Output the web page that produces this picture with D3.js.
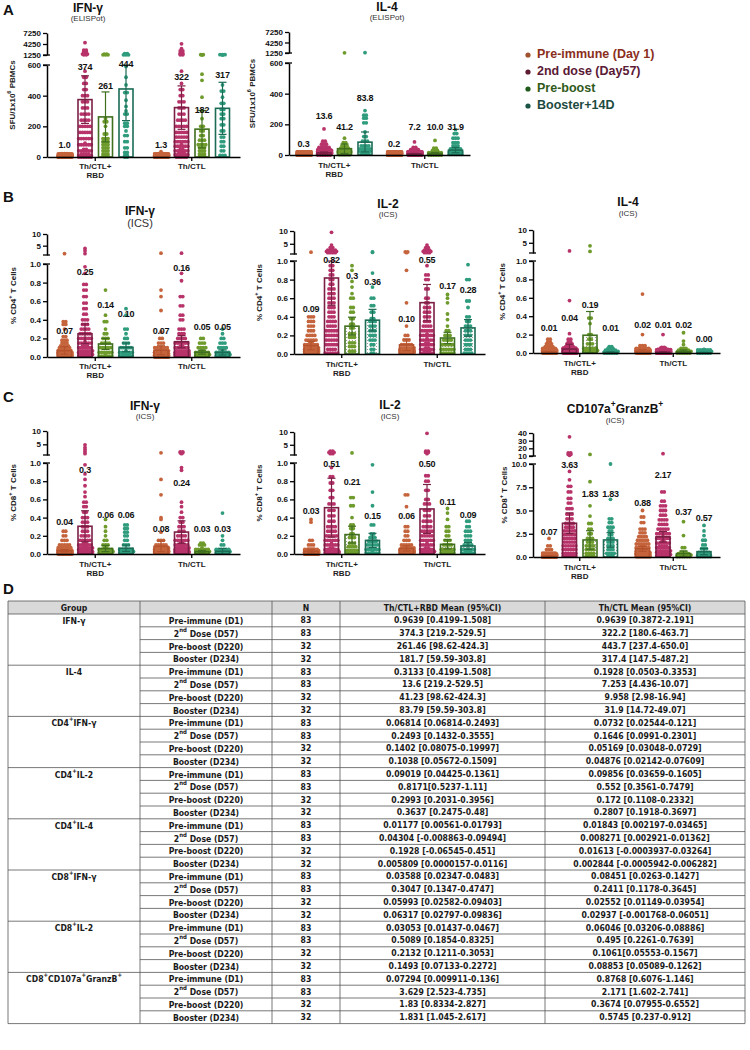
<!DOCTYPE html>
<html><head><meta charset="utf-8">
<script src="https://cdn.jsdelivr.net/npm/d3@7"></script>
<style>
body{margin:0;background:#fff}
svg{display:block;font-family:"Liberation Sans",Arial,sans-serif}
</style></head><body>
<svg id="fig" width="750" height="1050"></svg>
<script>
// ---------------- DATA ----------------
const seriesNames = ["Pre-immune (Day 1)","2nd dose (Day57)","Pre-boost","Booster+14D"];
const groupNames = [["Th/CTL+","RBD"],["Th/CTL"]];

const elispotLowerTicks = [0,200,400,600];
const elispotUpperTicks = [1250,4250,7250];
const icsLowerTicks = [0,0.2,0.4,0.6,0.8,1.0];
const icsUpperTicks = [5,10];
const granzLowerTicks = [0,2.5,5,7.5,10];
const granzUpperTicks = [10,20,30,40];

// A1: IFN-γ ELISpot
const ifnSpotMean = [[0.96,374.3,261.5,443.7],[1.3,322.2,181.7,317.4]];
const ifnSpotLabel = [["1.0","374","261","444"],["1.3","322","182","317"]];
const ifnSpotLo = [[0.42,219.2,98.6,237.4],[0.39,180.6,59.6,147.5]];
const ifnSpotHi = [[1.51,529.5,424.3,650.0],[2.19,463.7,303.8,487.2]];
const ifnSpotLabelAt = [[72,580,457,600],[72,515,300,528]];
const ifnSpotPoints = [
 [
  [[0,50],[2,15],[5,10],[10,5],[20,3]],
  [[4600,1],[2600,2],[2200,2],[1800,2],[1500,3],[1300,2],[560,1],[520,2],[480,2],[440,2],[400,3],[360,3],[320,3],[280,4],[240,4],[200,5],[160,5],[120,6],[80,7],[40,8],[10,10],[0,6]],
  [[1500,2],[1300,3],[250,1],[230,2],[200,1],[150,2],[120,3],[100,3],[80,3],[60,3],[40,3],[20,3],[5,3]],
  [[1600,2],[1450,2],[1300,3],[590,1],[520,1],[470,1],[420,2],[370,1],[330,1],[300,1],[280,2],[220,2],[200,2],[170,1],[140,2],[100,2],[60,2],[30,2],[10,2],[0,2]]
 ],
 [
  [[0,55],[3,15],[8,8],[15,3],[35,1]],
  [[4300,1],[3000,1],[2400,2],[1800,2],[1500,2],[1300,2],[560,1],[480,1],[440,2],[400,2],[360,3],[320,3],[280,3],[240,4],[200,5],[160,5],[130,5],[100,6],[70,7],[40,8],[15,9],[0,5]],
  [[1350,2],[1250,1],[540,1],[500,1],[390,1],[300,1],[250,1],[200,2],[170,2],[140,2],[110,3],[80,4],[60,3],[40,3],[20,3],[5,3]],
  [[1350,3],[1250,1],[470,1],[430,2],[390,1],[350,2],[310,2],[280,2],[250,2],[210,2],[170,2],[130,2],[100,2],[70,2],[40,2],[10,3]]
 ]
];

// A2: IL-4 ELISpot
const il4SpotMean = [[0.31,13.6,41.2,83.8],[0.19,7.25,9.96,31.9]];
const il4SpotLabel = [["0.3","13.6","41.2","83.8"],["0.2","7.2","10.0","31.9"]];
const il4SpotLo = [[0.1,7.6,10,20],[0.05,4.44,2.98,14.72]];
const il4SpotHi = [[0.52,19.6,72,150],[0.34,10.07,16.94,49.07]];
const il4SpotLabelAt = [[65,248,176,366],[65,176,176,176]];
const il4SpotPoints = [
 [
  [[0,75],[2,8]],
  [[170,1],[90,2],[70,3],[50,5],[35,7],[20,12],[10,15],[3,20],[0,18]],
  [[1300,1],[110,1],[80,2],[60,3],[45,4],[30,5],[20,6],[10,5],[2,5]],
  [[1350,1],[290,1],[260,2],[240,2],[210,2],[150,1],[120,2],[90,3],[60,4],[40,5],[25,5],[10,4]]
 ],
 [
  [[0,78],[2,5]],
  [[85,1],[50,2],[35,4],[20,10],[10,16],[3,25],[0,25]],
  [[95,1],[45,2],[30,3],[15,8],[5,10],[0,8]],
  [[165,1],[140,2],[110,3],[80,3],[60,3],[40,5],[20,6],[5,9]]
 ]
];

// B1: CD4 IFN-γ ICS
const cd4IfnMean = [[0.0681,0.2493,0.1402,0.1038],[0.0732,0.1646,0.0517,0.0488]];
const cd4IfnLabel = [["0.07","0.25","0.14","0.10"],["0.07","0.16","0.05","0.05"]];
const cd4IfnLo = [[0.03,0.1432,0.0808,0.0567],[0.0254,0.0991,0.0305,0.0214]];
const cd4IfnHi = [[0.11,0.3555,0.2000,0.1509],[0.121,0.2301,0.0729,0.0761]];
const cd4IfnLabelAt = [[0.27,0.91,0.55,0.46],[0.27,0.95,0.32,0.32]];
const cd4IfnPoints = [
 [
  [[1.6,1],[0.38,2],[0.35,2],[0.3,1],[0.22,2],[0.18,3],[0.15,3],[0.12,4],[0.1,5],[0.07,8],[0.05,10],[0.03,14],[0.01,28]],
  [[3.8,1],[2.8,1],[1.6,1],[0.97,1],[0.9,1],[0.78,2],[0.72,2],[0.65,2],[0.58,2],[0.52,2],[0.46,2],[0.4,3],[0.35,3],[0.3,4],[0.25,5],[0.2,6],[0.15,7],[0.1,9],[0.05,12],[0.01,20]],
  [[0.72,1],[0.45,1],[0.38,2],[0.3,1],[0.25,2],[0.2,3],[0.15,4],[0.1,5],[0.05,6],[0.01,7]],
  [[0.52,1],[0.45,1],[0.3,2],[0.25,1],[0.2,2],[0.15,3],[0.1,5],[0.05,7],[0.01,10]]
 ],
 [
  [[1.8,1],[0.72,1],[0.65,1],[0.5,1],[0.27,1],[0.2,2],[0.15,3],[0.1,6],[0.05,12],[0.02,20],[0,35]],
  [[1.8,1],[0.9,1],[0.82,1],[0.65,2],[0.55,2],[0.45,2],[0.4,2],[0.3,3],[0.25,3],[0.2,4],[0.15,6],[0.1,8],[0.05,12],[0.01,36]],
  [[0.2,2],[0.15,3],[0.1,4],[0.05,8],[0.01,15]],
  [[0.3,1],[0.25,1],[0.2,2],[0.15,3],[0.1,4],[0.05,7],[0.01,14]]
 ]
];

// B2: CD4 IL-2 ICS
const cd4Il2Mean = [[0.0902,0.8171,0.2993,0.3637],[0.0986,0.552,0.172,0.2807]];
const cd4Il2Label = [["0.09","0.82","0.3","0.36"],["0.10","0.55","0.17","0.28"]];
const cd4Il2Lo = [[0.0443,0.5237,0.2031,0.2475],[0.0366,0.3561,0.1108,0.1918]];
const cd4Il2Hi = [[0.1361,1.11,0.3956,0.48],[0.1605,0.7479,0.2332,0.3697]];
const cd4Il2LabelAt = [[0.48,1.0,0.83,0.77],[0.37,1.0,0.72,0.68]];
const cd4Il2Points = [
 [
  [[1.7,1],[0.4,3],[0.35,3],[0.3,3],[0.25,3],[0.2,4],[0.15,5],[0.1,8],[0.05,15],[0.01,38]],
  [[9.5,1],[4.5,1],[3.5,2],[2.5,4],[2,5],[1.5,4],[0.95,2],[0.9,2],[0.85,2],[0.8,2],[0.75,2],[0.7,3],[0.65,3],[0.6,3],[0.55,3],[0.5,3],[0.45,3],[0.4,3],[0.35,4],[0.3,4],[0.25,5],[0.2,5],[0.15,5],[0.1,5],[0.05,4],[0.01,6]],
  [[0.95,1],[0.9,1],[0.78,1],[0.72,1],[0.65,1],[0.6,2],[0.5,2],[0.45,2],[0.38,2],[0.32,2],[0.28,2],[0.22,3],[0.18,3],[0.12,3],[0.08,3],[0.03,3]],
  [[1.8,1],[1.6,1],[0.87,1],[0.72,1],[0.6,2],[0.52,2],[0.45,2],[0.38,2],[0.35,3],[0.3,3],[0.25,3],[0.2,3],[0.15,3],[0.1,2],[0.05,2],[0.01,2]]
 ],
 [
  [[1.8,2],[1.5,1],[0.9,1],[0.55,1],[0.3,1],[0.2,2],[0.15,3],[0.1,5],[0.05,12],[0.01,55]],
  [[4.5,1],[3.5,2],[2.5,3],[2,4],[1.5,3],[0.95,1],[0.85,2],[0.8,2],[0.7,2],[0.6,2],[0.55,2],[0.5,3],[0.45,3],[0.4,3],[0.35,3],[0.3,4],[0.25,5],[0.2,7],[0.15,7],[0.1,8],[0.05,8],[0.01,9]],
  [[0.64,1],[0.6,1],[0.55,1],[0.43,1],[0.37,1],[0.3,1],[0.25,2],[0.2,3],[0.15,4],[0.1,5],[0.05,6],[0.01,6]],
  [[0.96,1],[0.8,2],[0.57,2],[0.5,1],[0.4,2],[0.35,2],[0.3,3],[0.25,3],[0.2,3],[0.15,3],[0.1,3],[0.05,3],[0.01,4]]
 ]
];

// B3: CD4 IL-4 ICS
const cd4Il4Mean = [[0.0118,0.043,0.1928,0.0058],[0.0184,0.0083,0.0161,0.0028]];
const cd4Il4Label = [["0.01","0.04","0.19","0.01"],["0.02","0.01","0.02","0.00"]];
const cd4Il4Lo = [[0.0056,-0.0089,-0.0655,0.00002],[0.0022,0.0029,-0.0004,-0.0006]];
const cd4Il4Hi = [[0.0179,0.0949,0.451,0.0116],[0.0347,0.0136,0.0326,0.0063]];
const cd4Il4LabelAt = [[0.26,0.37,0.51,0.26],[0.30,0.30,0.30,0.15]];
const cd4Il4Points = [
 [
  [[0.15,2],[0.12,2],[0.1,3],[0.07,4],[0.05,6],[0.03,10],[0.01,20],[0,36]],
  [[1.8,1],[0.57,1],[0.21,1],[0.15,2],[0.12,2],[0.1,3],[0.07,4],[0.05,8],[0.02,20],[0,41]],
  [[3.8,1],[1.6,1],[0.38,2],[0.32,1],[0.2,2],[0.15,2],[0.1,3],[0.05,6],[0.01,15]],
  [[0.07,2],[0.05,3],[0.03,5],[0.01,10],[0,12]]
 ],
 [
  [[0.64,1],[0.2,1],[0.08,3],[0.05,6],[0.03,10],[0.01,22],[0,40]],
  [[0.2,1],[0.06,2],[0.04,5],[0.02,15],[0,60]],
  [[0.22,1],[0.13,1],[0.09,1],[0.05,3],[0.03,5],[0.01,9],[0,12]],
  [[0.04,1],[0.02,5],[0.01,8],[0,18]]
 ]
];

// C1: CD8 IFN-γ ICS
const cd8IfnMean = [[0.0359,0.3047,0.0599,0.0632],[0.0845,0.2411,0.0255,0.0294]];
const cd8IfnLabel = [["0.04","0.3","0.06","0.06"],["0.08","0.24","0.03","0.03"]];
const cd8IfnLo = [[0.0235,0.1347,0.0258,0.028],[0.0263,0.1178,0.0115,-0.0018]];
const cd8IfnHi = [[0.0483,0.4747,0.094,0.0984],[0.1427,0.3645,0.0395,0.0605]];
const cd8IfnLabelAt = [[0.34,0.92,0.42,0.42],[0.27,0.77,0.27,0.27]];
const cd8IfnPoints = [
 [
  [[0.25,2],[0.2,2],[0.15,3],[0.1,5],[0.07,6],[0.04,10],[0.02,20],[0,35]],
  [[4.8,1],[3.8,1],[3,1],[2.2,1],[1.5,1],[0.98,1],[0.88,1],[0.82,1],[0.75,1],[0.68,1],[0.63,1],[0.57,2],[0.52,2],[0.46,2],[0.4,3],[0.35,3],[0.3,3],[0.25,3],[0.2,4],[0.15,5],[0.1,8],[0.05,14],[0.01,25]],
  [[0.38,1],[0.3,1],[0.25,1],[0.2,1],[0.15,2],[0.1,3],[0.05,8],[0.01,15]],
  [[0.32,2],[0.28,2],[0.24,2],[0.2,2],[0.15,2],[0.1,3],[0.05,6],[0.01,13]]
 ],
 [
  [[1.8,1],[0.82,1],[0.65,1],[0.4,1],[0.38,1],[0.24,1],[0.15,3],[0.1,5],[0.05,15],[0.01,54]],
  [[2.2,2],[1.8,2],[1.5,1],[0.95,1],[0.92,1],[0.57,1],[0.52,1],[0.46,1],[0.4,2],[0.35,2],[0.3,3],[0.25,3],[0.2,4],[0.15,6],[0.1,8],[0.05,14],[0.01,34]],
  [[0.12,2],[0.1,3],[0.05,7],[0.01,20]],
  [[0.45,1],[0.2,1],[0.15,1],[0.1,2],[0.05,6],[0.01,21]]
 ]
];

// C2: CD8 IL-2 ICS
const cd8Il2Mean = [[0.0305,0.5089,0.2132,0.1493],[0.0605,0.495,0.1061,0.0885]];
const cd8Il2Label = [["0.03","0.51","0.21","0.15"],["0.06","0.50","0.11","0.09"]];
const cd8Il2Lo = [[0.0144,0.1854,0.1211,0.0713],[0.0321,0.2261,0.0555,0.0509]];
const cd8Il2Hi = [[0.0467,0.8325,0.3053,0.2272],[0.0889,0.7639,0.1567,0.1262]];
const cd8Il2LabelAt = [[0.47,0.98,0.78,0.41],[0.41,0.98,0.56,0.42]];
const cd8Il2Points = [
 [
  [[0.38,1],[0.35,1],[0.15,2],[0.1,3],[0.05,6],[0.02,15],[0,55]],
  [[2.5,2],[2,3],[1.5,2],[0.95,1],[0.85,2],[0.78,2],[0.7,2],[0.62,2],[0.55,3],[0.48,3],[0.42,3],[0.36,3],[0.3,4],[0.25,4],[0.2,5],[0.15,6],[0.1,7],[0.05,8],[0.01,25]],
  [[1.8,1],[0.62,2],[0.53,2],[0.4,1],[0.32,2],[0.28,2],[0.22,2],[0.18,3],[0.12,3],[0.08,4],[0.04,5],[0.01,5]],
  [[0.98,1],[0.68,1],[0.53,1],[0.32,2],[0.22,2],[0.18,3],[0.14,4],[0.1,5],[0.05,6],[0.01,7]]
 ],
 [
  [[0.65,2],[0.52,1],[0.3,2],[0.25,2],[0.2,2],[0.15,3],[0.1,5],[0.05,12],[0.01,54]],
  [[9.5,1],[2.5,2],[2,2],[1.5,1],[0.86,2],[0.8,2],[0.7,2],[0.6,2],[0.55,3],[0.48,3],[0.42,3],[0.36,4],[0.3,4],[0.25,5],[0.2,5],[0.15,6],[0.1,7],[0.05,8],[0.01,23]],
  [[0.5,1],[0.45,1],[0.38,1],[0.3,2],[0.25,2],[0.2,2],[0.15,3],[0.1,4],[0.05,6],[0.01,10]],
  [[0.36,2],[0.3,2],[0.25,3],[0.2,3],[0.15,3],[0.1,4],[0.05,6],[0.01,9]]
 ]
];

// C3: CD8 CD107a+GranzB+ ICS
const cd107Mean = [[0.0729,3.629,1.83,1.831],[0.8768,2.171,0.3674,0.5745]];
const cd107Label = [["0.07","3.63","1.83","1.83"],["0.88","2.17","0.37","0.57"]];
const cd107Lo = [[0.0099,2.523,0.8334,1.045],[0.6076,1.602,0.0796,0.237]];
const cd107Hi = [[0.136,4.735,2.827,2.617],[1.146,2.741,0.6552,0.912]];
const cd107LabelAt = [[2.6,9.8,6.7,6.7],[5.7,8.7,4.8,4.1]];
const cd107Points = [
 [
  [[2,1],[1.2,2],[0.8,3],[0.4,5],[0.1,20],[0,52]],
  [[35,1],[14,2],[12,2],[11,1],[9.2,1],[8.3,1],[7.6,2],[7,2],[6.3,2],[5.8,2],[5.2,3],[4.6,3],[4.1,3],[3.6,4],[3.2,4],[2.8,5],[2.4,5],[2,5],[1.6,5],[1.2,6],[0.8,6],[0.4,6],[0.1,8]],
  [[12,1],[8.1,1],[5.5,1],[4.4,1],[3.6,2],[3,2],[2.5,2],[2,3],[1.6,3],[1.2,4],[0.8,4],[0.4,4],[0.1,4]],
  [[10,1],[6.2,1],[4.1,2],[3.7,2],[3.2,3],[2.8,2],[2.4,2],[2,3],[1.6,3],[1.2,3],[0.8,3],[0.4,4],[0.1,3]]
 ],
 [
  [[5,1],[4.3,2],[3.7,2],[3,3],[2.6,3],[2.2,4],[1.8,5],[1.4,6],[1,8],[0.6,10],[0.3,14],[0.05,25]],
  [[13,1],[7,2],[6,2],[5.5,3],[5,3],[4.5,3],[4,4],[3.5,4],[3,5],[2.5,6],[2,7],[1.5,8],[1,10],[0.5,12],[0.1,13]],
  [[3.8,1],[2.3,1],[1,2],[0.5,3],[0.2,8],[0.05,17]],
  [[3.4,1],[2.8,1],[2.3,1],[1.8,2],[1.3,2],[0.9,3],[0.5,5],[0.2,7],[0.05,10]]
 ]
];

// D: table
const tableGroups = ["IFN-γ","IL-4","CD4^{+}IFN-γ","CD4^{+}IL-2","CD4^{+}IL-4","CD8^{+}IFN-γ","CD8^{+}IL-2","CD8^{+}CD107a^{+}GranzB^{+}"];
const tableTimepoints = ["Pre-immune (D1)","2^{nd} Dose (D57)","Pre-boost (D220)","Booster (D234)"];
const tableN = [83,83,32,32];
const tableHeader = ["Group","","N","Th/CTL+RBD Mean (95%CI)","Th/CTL Mean (95%CI)"];
const tableRbd = [
 "0.9639 [0.4199-1.508]","374.3 [219.2-529.5]","261.46 [98.62-424.3]","181.7 [59.59-303.8]",
 "0.3133 [0.4199-1.508]","13.6 [219.2-529.5]","41.23 [98.62-424.3]","83.79 [59.59-303.8]",
 "0.06814 [0.06814-0.2493]","0.2493 [0.1432-0.3555]","0.1402 [0.08075-0.19997]","0.1038 [0.05672-0.1509]",
 "0.09019 [0.04425-0.1361]","0.8171[0.5237-1.11]","0.2993 [0.2031-0.3956]","0.3637 [0.2475-0.48]",
 "0.01177 [0.00561-0.01793]","0.04304 [-0.008863-0.09494]","0.1928 [-0.06545-0.451]","0.005809 [0.0000157-0.0116]",
 "0.03588 [0.02347-0.0483]","0.3047 [0.1347-0.4747]","0.05993 [0.02582-0.09403]","0.06317 [0.02797-0.09836]",
 "0.03053 [0.01437-0.0467]","0.5089 [0.1854-0.8325]","0.2132 [0.1211-0.3053]","0.1493 [0.07133-0.2272]",
 "0.07294 [0.009911-0.136]","3.629 [2.523-4.735]","1.83 [0.8334-2.827]","1.831 [1.045-2.617]"
];
const tableCtl = [
 "0.9639 [0.3872-2.191]","322.2 [180.6-463.7]","443.7 [237.4-650.0]","317.4 [147.5-487.2]",
 "0.1928 [0.0503-0.3353]","7.253 [4.436-10.07]","9.958 [2.98-16.94]","31.9 [14.72-49.07]",
 "0.0732 [0.02544-0.121]","0.1646 [0.0991-0.2301]","0.05169 [0.03048-0.0729]","0.04876 [0.02142-0.07609]",
 "0.09856 [0.03659-0.1605]","0.552 [0.3561-0.7479]","0.172 [0.1108-0.2332]","0.2807 [0.1918-0.3697]",
 "0.01843 [0.002197-0.03465]","0.008271 [0.002921-0.01362]","0.01613 [-0.0003937-0.03264]","0.002844 [-0.0005942-0.006282]",
 "0.08451 [0.0263-0.1427]","0.2411 [0.1178-0.3645]","0.02552 [0.01149-0.03954]","0.02937 [-0.001768-0.06051]",
 "0.06046 [0.03206-0.08886]","0.495 [0.2261-0.7639]","0.1061[0.05553-0.1567]","0.08853 [0.05089-0.1262]",
 "0.8768 [0.6076-1.146]","2.171 [1.602-2.741]","0.3674 [0.07955-0.6552]","0.5745 [0.237-0.912]"
];

// ---------------- STYLE ----------------
const pointColors = ["#c5643c","#b8336a","#6e9b2c","#2f9c7d"];
const barColors   = ["#b4532e","#7b1f45","#3f6f1f","#1b6b55"];
const legendDot   = ["#a0522d","#5c1a33","#1f5a1c","#1a5445"];
const legendText  = ["#8b2e1c","#5a1a35","#2f5a1a","#1d4a40"];

const svg = d3.select("#fig");
const defs = svg.append("defs");
const pat = defs.append("pattern").attr("id","dots").attr("width",3).attr("height",3).attr("patternUnits","userSpaceOnUse");
pat.append("rect").attr("width",3).attr("height",3).attr("fill","#fff");
pat.append("circle").attr("cx",1.5).attr("cy",1.5).attr("r",0.6).attr("fill","#8a8a8a");

function rich(sel, str){
  const parts = str.split(/(\^\{[^}]*\})/);
  parts.forEach(p=>{
    if(!p) return;
    if(p.startsWith("^{")){
      sel.append("tspan").attr("baseline-shift","super").attr("font-size","70%").text(p.slice(2,-1));
    } else sel.append("tspan").text(p);
  });
}

const fmt0 = d3.format("d"), fmt1 = d3.format(".1f");

const charts = [
 {title:"IFN-γ", sub:"(ELISPot)", ytitle:"SFU/1x10^{6} PBMCs", mean:ifnSpotMean, label:ifnSpotLabel, lo:ifnSpotLo, hi:ifnSpotHi, labelAt:ifnSpotLabelAt, points:ifnSpotPoints,
  lowerDomain:[0,600], upperDomain:[1250,7250], lowerTicks:elispotLowerTicks, upperTicks:elispotUpperTicks, lf:fmt0, uf:fmt0,
  L:{axisX:47,xEnd:240,lower:[157,65],upper:[55,33],titleX:88,titleY:9,subY:19,subSize:8,xlabY:167,ytX:13,pattern:false}},
 {title:"IL-4", sub:"(ELISPot)", ytitle:"SFU/1x10^{6} PBMCs", mean:il4SpotMean, label:il4SpotLabel, lo:il4SpotLo, hi:il4SpotHi, labelAt:il4SpotLabelAt, points:il4SpotPoints,
  lowerDomain:[0,600], upperDomain:[1250,7250], lowerTicks:elispotLowerTicks, upperTicks:elispotUpperTicks, lf:fmt0, uf:fmt0,
  L:{axisX:289,xEnd:470,lower:[155,63],upper:[53,32],titleX:387,titleY:8,subY:18,subSize:8,xlabY:166,ytX:253,pattern:false}},
 {title:"IFN-γ", sub:"(ICS)", ytitle:"% CD4^{+} T Cells", mean:cd4IfnMean, label:cd4IfnLabel, lo:cd4IfnLo, hi:cd4IfnHi, labelAt:cd4IfnLabelAt, points:cd4IfnPoints,
  lowerDomain:[0,1], upperDomain:[1,10], lowerTicks:icsLowerTicks, upperTicks:icsUpperTicks, lf:fmt1, uf:fmt0,
  L:{axisX:47,xEnd:240,lower:[357,264],upper:[255,234],titleX:140,titleY:212,subY:224,subSize:11,xlabY:367,ytX:14,pattern:false}},
 {title:"IL-2", sub:"(ICS)", ytitle:"% CD4^{+} T Cells", mean:cd4Il2Mean, label:cd4Il2Label, lo:cd4Il2Lo, hi:cd4Il2Hi, labelAt:cd4Il2LabelAt, points:cd4Il2Points,
  lowerDomain:[0,1], upperDomain:[1,10], lowerTicks:icsLowerTicks, upperTicks:icsUpperTicks, lf:fmt1, uf:fmt0,
  L:{axisX:294,xEnd:485,lower:[354,261],upper:[254,231],titleX:388,titleY:205,subY:215,subSize:8,xlabY:365,ytX:260,pattern:true}},
 {title:"IL-4", sub:"(ICS)", ytitle:"% CD4^{+} T Cells", mean:cd4Il4Mean, label:cd4Il4Label, lo:cd4Il4Lo, hi:cd4Il4Hi, labelAt:cd4Il4LabelAt, points:cd4Il4Points,
  lowerDomain:[0,1], upperDomain:[1,10], lowerTicks:icsLowerTicks, upperTicks:icsUpperTicks, lf:fmt1, uf:fmt0,
  L:{axisX:533,xEnd:720,lower:[353,261],upper:[253,230],titleX:628,titleY:203,subY:214,subSize:8,xlabY:364,ytX:503,pattern:true}},
 {title:"IFN-γ", sub:"(ICS)", ytitle:"% CD8^{+} T Cells", mean:cd8IfnMean, label:cd8IfnLabel, lo:cd8IfnLo, hi:cd8IfnHi, labelAt:cd8IfnLabelAt, points:cd8IfnPoints,
  lowerDomain:[0,1], upperDomain:[1,10], lowerTicks:icsLowerTicks, upperTicks:icsUpperTicks, lf:fmt1, uf:fmt0,
  L:{axisX:47,xEnd:240,lower:[554,463],upper:[455,431],titleX:145,titleY:407,subY:417,subSize:8,xlabY:565,ytX:14,pattern:false}},
 {title:"IL-2", sub:"(ICS)", ytitle:"% CD8^{+} T Cells", mean:cd8Il2Mean, label:cd8Il2Label, lo:cd8Il2Lo, hi:cd8Il2Hi, labelAt:cd8Il2LabelAt, points:cd8Il2Points,
  lowerDomain:[0,1], upperDomain:[1,10], lowerTicks:icsLowerTicks, upperTicks:icsUpperTicks, lf:fmt1, uf:fmt0,
  L:{axisX:294,xEnd:485,lower:[554,463],upper:[455,432],titleX:390,titleY:406,subY:417,subSize:8,xlabY:565,ytX:260,pattern:true}},
 {title:"CD107a^{+}GranzB^{+}", sub:"(ICS)", ytitle:"% CD8^{+} T Cells", mean:cd107Mean, label:cd107Label, lo:cd107Lo, hi:cd107Hi, labelAt:cd107LabelAt, points:cd107Points,
  lowerDomain:[0,10], upperDomain:[10,40], lowerTicks:granzLowerTicks, upperTicks:granzUpperTicks, lf:fmt1, uf:fmt0,
  L:{axisX:533,xEnd:720,lower:[557,464],upper:[456,433],titleX:615,titleY:410,subY:421,subSize:8,xlabY:568,ytX:505,pattern:true}}
];

function layoutPoints(entries, cx, yOf, barW){
  const out=[], step=2.5, perRow=6;
  entries.forEach(([v,c])=>{
    const y0=yOf(v);
    for(let i=0;i<c;i++){
      const r=Math.floor(i/perRow), j=i%perRow;
      const nInRow=Math.min(perRow,c-r*perRow);
      let x=cx+(j-(nInRow-1)/2)*step + ((r%2 && nInRow===perRow)?step/2:0);
      x=Math.max(cx-barW/2-1,Math.min(cx+barW/2+1,x));
      out.push({x, y:y0-(r%3)*1.5});
    }
  });
  return out;
}

function drawChart(c){
  const L=c.L;
  const g=svg.append("g");
  const lower=d3.scaleLinear().domain(c.lowerDomain).range(L.lower);
  const upper=d3.scaleLinear().domain(c.upperDomain).range(L.upper);
  const yOf=v=> v<=c.lowerDomain[1] ? lower(Math.max(v,c.lowerDomain[0])) : upper(Math.min(v,c.upperDomain[1]));
  const gx=d3.scaleBand().domain([0,1]).range([L.axisX,L.xEnd]);
  const sx=d3.scaleBand().domain([0,1,2,3]).range([-37.75,37.75]).paddingInner(0.317);
  const bw=sx.bandwidth();
  const cxOf=(gi,si)=>gx(gi)+gx.bandwidth()/2+sx(si)+bw/2;

  const t=g.append("text").attr("x",L.titleX).attr("y",L.titleY).attr("text-anchor","middle").attr("dominant-baseline","middle")
    .attr("font-size",12).attr("font-weight","bold").attr("fill","#111");
  rich(t,c.title);
  g.append("text").attr("x",L.titleX).attr("y",L.subY).attr("text-anchor","middle").attr("dominant-baseline","middle")
    .attr("font-size",L.subSize).attr("fill","#333").text(c.sub);

  const yMid=(L.lower[0]+L.upper[1])/2;
  const yt=g.append("text").attr("transform",`translate(${L.ytX},${yMid}) rotate(-90)`).attr("text-anchor","middle")
    .attr("dominant-baseline","middle").attr("font-size",8).attr("font-weight","bold").attr("fill","#222");
  rich(yt,c.ytitle);

  for(let gi=0;gi<2;gi++){
    for(let si=0;si<4;si++){
      const cx=cxOf(gi,si), m=c.mean[gi][si];
      const y0=lower(0), y1=yOf(m);
      const fill = (L.pattern && si>=2) ? "url(#dots)" : "#fff";
      g.append("rect").attr("x",cx-bw/2).attr("y",y1).attr("width",bw).attr("height",Math.max(0,y0-y1)).attr("fill",fill);
      const pts=layoutPoints(c.points[gi][si],cx,yOf,bw);
      g.append("g").selectAll("circle").data(pts).join("circle")
        .attr("cx",d=>d.x).attr("cy",d=>d.y).attr("r",1.9).attr("fill",pointColors[si]);
      g.append("rect").attr("x",cx-bw/2).attr("y",y1).attr("width",bw).attr("height",Math.max(0,y0-y1))
        .attr("fill","none").attr("stroke",barColors[si]).attr("stroke-width",1.6);
      const ylo=lower(Math.max(0,c.lo[gi][si])), yhi=lower(Math.min(c.lowerDomain[1],c.hi[gi][si]));
      const eb=g.append("g").attr("stroke",barColors[si]).attr("stroke-width",1.2);
      eb.append("line").attr("x1",cx).attr("x2",cx).attr("y1",ylo).attr("y2",yhi);
      eb.append("line").attr("x1",cx-4).attr("x2",cx+4).attr("y1",yhi).attr("y2",yhi);
      eb.append("line").attr("x1",cx-4).attr("x2",cx+4).attr("y1",ylo).attr("y2",ylo);
      g.append("text").attr("x",cx).attr("y",yOf(c.labelAt[gi][si])).attr("text-anchor","middle").attr("dominant-baseline","middle")
        .attr("font-size",9).attr("font-weight","bold").attr("letter-spacing",-0.2).attr("fill","#111").text(c.label[gi][si]);
    }
  }

  const styleAxis=sel=>{
    sel.selectAll("path.domain").attr("stroke","#000").attr("stroke-width",1.5);
    sel.selectAll(".tick line").attr("stroke","#000").attr("stroke-width",1.3);
    sel.selectAll(".tick text").attr("font-size",8).attr("font-weight","bold").attr("fill","#111")
      .attr("font-family","Liberation Sans, Arial, sans-serif");
  };
  g.append("g").attr("transform",`translate(${L.axisX},0)`)
    .call(d3.axisLeft(lower).tickValues(c.lowerTicks).tickFormat(c.lf).tickSize(4).tickSizeOuter(0).tickPadding(2)).call(styleAxis);
  g.append("g").attr("transform",`translate(${L.axisX},0)`)
    .call(d3.axisLeft(upper).tickValues(c.upperTicks).tickFormat(c.uf).tickSize(4).tickSizeOuter(0).tickPadding(2)).call(styleAxis);
  [L.lower[1],L.upper[0]].forEach(y=>{
    g.append("line").attr("x1",L.axisX-4).attr("x2",L.axisX+3).attr("y1",y).attr("y2",y).attr("stroke","#000").attr("stroke-width",1.3);
  });
  g.append("g").attr("transform",`translate(0,${lower(0)})`)
    .call(d3.axisBottom(gx).tickFormat("").tickSize(4).tickSizeOuter(0)).call(styleAxis);
  groupNames.forEach((lines,gi)=>{
    lines.forEach((s,li)=>{
      g.append("text").attr("x",gx(gi)+gx.bandwidth()/2).attr("y",L.xlabY+li*9).attr("text-anchor","middle")
        .attr("dominant-baseline","middle").attr("font-size",8).attr("font-weight","bold").attr("fill","#222").text(s);
    });
  });
}
charts.forEach(drawChart);

[["A",3,11],["B",3,198],["C",3,398],["D",3,590]].forEach(([t,x,y])=>{
  svg.append("text").attr("x",x).attr("y",y).attr("dominant-baseline","middle").attr("font-size",15)
    .attr("font-weight","bold").attr("fill","#111").text(t);
});

seriesNames.forEach((s,i)=>{
  const y=55+i*17;
  svg.append("circle").attr("cx",528).attr("cy",y).attr("r",2.6).attr("fill",legendDot[i]);
  svg.append("text").attr("x",537).attr("y",y).attr("dominant-baseline","middle").attr("font-size",12.5)
    .attr("font-weight","bold").attr("fill",legendText[i]).text(s);
});

(function(){
  const cols=[8,140,272,340,545,745];
  const top=601, headH=13, rowH=12.8;
  const nRows=tableGroups.length*tableTimepoints.length;
  const tg=svg.append("g").attr("font-family","'Liberation Sans Narrow','DejaVu Sans Condensed','DejaVu Sans',sans-serif")
    .attr("font-stretch","condensed").attr("font-size",8.6).attr("font-weight","bold").attr("fill","#1a1a1a");
  const bottom=top+headH+nRows*rowH;
  tg.append("rect").attr("x",cols[0]).attr("y",top).attr("width",cols[5]-cols[0]).attr("height",headH).attr("fill","#d9d9d9");
  const ln=(x1,y1,x2,y2)=>tg.append("line").attr("x1",x1).attr("y1",y1).attr("x2",x2).attr("y2",y2).attr("stroke","#555").attr("stroke-width",0.8);
  cols.forEach(x=>ln(x,top,x,bottom));
  ln(cols[0],top,cols[5],top);
  ln(cols[0],top+headH,cols[5],top+headH);
  for(let r=1;r<=nRows;r++){
    const y=top+headH+r*rowH;
    if(r%4===0) ln(cols[0],y,cols[5],y); else ln(cols[1],y,cols[5],y);
  }
  const cc=i=>(cols[i]+cols[i+1])/2;
  tableHeader.forEach((h,i)=>{
    tg.append("text").attr("x",cc(i)).attr("y",top+headH/2+0.5).attr("text-anchor","middle").attr("dominant-baseline","middle").text(h);
  });
  for(let r=0;r<nRows;r++){
    const y=top+headH+r*rowH+rowH/2+0.5;
    const gi=Math.floor(r/4), ti=r%4;
    if(ti===0){
      const t=tg.append("text").attr("x",cc(0)).attr("y",y).attr("text-anchor","middle").attr("dominant-baseline","middle");
      rich(t,tableGroups[gi]);
    }
    const t2=tg.append("text").attr("x",cc(1)).attr("y",y).attr("text-anchor","middle").attr("dominant-baseline","middle");
    rich(t2,tableTimepoints[ti]);
    tg.append("text").attr("x",cc(2)).attr("y",y).attr("text-anchor","middle").attr("dominant-baseline","middle").text(tableN[ti]);
    tg.append("text").attr("x",cc(3)).attr("y",y).attr("text-anchor","middle").attr("dominant-baseline","middle").text(tableRbd[r]);
    tg.append("text").attr("x",cc(4)).attr("y",y).attr("text-anchor","middle").attr("dominant-baseline","middle").text(tableCtl[r]);
  }
})();
</script></body></html>
